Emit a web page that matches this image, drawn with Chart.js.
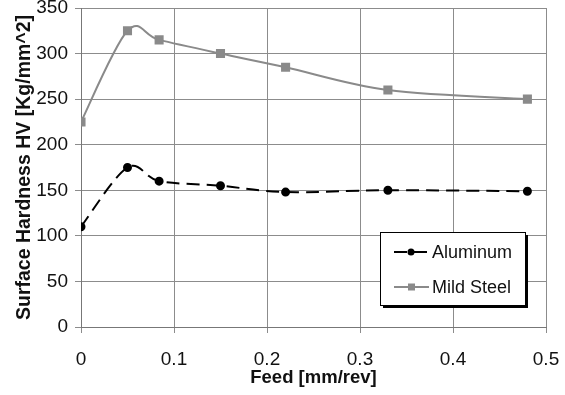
<!DOCTYPE html>
<html>
<head>
<meta charset="utf-8">
<script src="https://cdn.jsdelivr.net/npm/chart.js@4/dist/chart.umd.min.js"></script>
<style>
  html, body { margin: 0; padding: 0; background: #fff; }
  #wrap { width: 565px; height: 395px; }
</style>
</head>
<body>
<div id="wrap"><canvas id="hardness" width="565" height="395"></canvas></div>
<script>
// feed rates [mm/rev] and measured hardness for each material
var feed = [0, 0.05, 0.084, 0.15, 0.22, 0.33, 0.48];
var aluminum = [110, 175, 160, 155, 148, 150, 149];
var mildSteel = [225, 325, 315, 300, 285, 260, 250];
var seriesNames = ["Aluminum", "Mild Steel"];

function toPoints(ys) {
  return feed.map(function(x, i) { return { x: x, y: ys[i] }; });
}

var font = "'Liberation Sans', Arial, sans-serif";
var gridColor = "#8c8c8c";

// spreadsheet-style smoothing: uniform Catmull-Rom control points (1/6 of the neighbour span)
var smoothLines = {
  id: "smoothLines",
  beforeDatasetDraw: function(chart, args) {
    var pts = args.meta.data;
    var line = args.meta.dataset;
    for (var i = 0; i < pts.length; i++) {
      var p = pts[i];
      var prev = pts[i - 1] || p;
      var next = pts[i + 1] || p;
      var dx = (next.x - prev.x) / 6;
      var dy = (next.y - prev.y) / 6;
      p.cp1x = p.x - dx;
      p.cp1y = p.y - dy;
      p.cp2x = p.x + dx;
      p.cp2y = p.y + dy;
    }
    line._pointsUpdated = true;
    line._path = undefined;
  }
};

// boxed legend with drop shadow inside the plot area
var boxLegend = {
  id: "boxLegend",
  afterDraw: function(chart) {
    var c = chart.ctx;
    var x = 380, y = 232, w = 145, h = 73;
    c.save();
    c.fillStyle = "#000";
    c.fillRect(x + 3, y + 3, w, h);
    c.fillStyle = "#fff";
    c.fillRect(x, y, w, h);
    c.strokeStyle = "#000";
    c.lineWidth = 1;
    c.strokeRect(x + 0.5, y + 0.5, w, h);

    chart.data.datasets.forEach(function(ds, i) {
      var ly = y + 20 + i * 35;
      c.strokeStyle = ds.borderColor;
      c.lineWidth = 2;
      c.setLineDash(ds.borderDash || []);
      c.beginPath();
      c.moveTo(394, ly);
      c.lineTo(429, ly);
      c.stroke();
      c.setLineDash([]);
      c.fillStyle = ds.pointBackgroundColor;
      if (ds.pointStyle === "rect") {
        c.fillRect(408, ly - 3.5, 7, 7);
      } else {
        c.beginPath();
        c.arc(411, ly, 3.5, 0, Math.PI * 2);
        c.fill();
      }
      c.fillStyle = "#111";
      c.font = "18px " + font;
      c.textBaseline = "middle";
      c.fillText(ds.label, 432, ly + 1);
    });
    c.restore();
  }
};

new Chart(document.getElementById("hardness"), {
  type: "scatter",
  data: {
    datasets: [{
      label: seriesNames[0],
      data: toPoints(aluminum),
      showLine: true,
      borderColor: "#000",
      borderWidth: 2,
      borderDash: [13, 7],
      pointBackgroundColor: "#000",
      pointBorderColor: "#000",
      pointStyle: "circle",
      pointRadius: 3.5,
      tension: 0.33
    }, {
      label: seriesNames[1],
      data: toPoints(mildSteel),
      showLine: true,
      borderColor: "#8a8a8a",
      borderWidth: 2,
      pointBackgroundColor: "#8a8a8a",
      pointBorderColor: "#8a8a8a",
      pointStyle: "rect",
      pointRadius: 5,
      tension: 0.33
    }]
  },
  options: {
    responsive: false,
    animation: false,
    layout: { padding: { left: 0, right: 19, top: 8, bottom: 0 } },
    plugins: {
      legend: { display: false },
      tooltip: { enabled: false }
    },
    scales: {
      x: {
        type: "linear",
        min: 0,
        max: 0.5,
        ticks: {
          stepSize: 0.1,
          padding: 15,
          color: "#111",
          font: { family: font, size: 19 }
        },
        grid: { color: gridColor, tickLength: 6 },
        border: { color: "#777" },
        title: {
          display: true,
          text: "Feed [mm/rev]",
          color: "#111",
          font: { family: font, size: 18.5, weight: "bold" },
          padding: { top: 0, bottom: 6 }
        },
        afterFit: function(s) {
          s.height = 68;
          s.paddingLeft = 0;
          s.paddingRight = 0;
        }
      },
      y: {
        min: 0,
        max: 350,
        ticks: {
          stepSize: 50,
          padding: 7,
          color: "#111",
          font: { family: font, size: 19 }
        },
        grid: { color: gridColor, tickLength: 6 },
        border: { color: "#777" },
        title: {
          display: true,
          text: "Surface Hardness HV [Kg/mm^2]",
          color: "#111",
          font: { family: font, size: 19.5, weight: "bold" },
          padding: { top: 13, bottom: 0 }
        },
        afterFit: function(s) {
          s.width = 81;
          s.paddingTop = 0;
          s.paddingBottom = 0;
        }
      }
    }
  },
  plugins: [smoothLines, boxLegend]
});
</script>
</body>
</html>
